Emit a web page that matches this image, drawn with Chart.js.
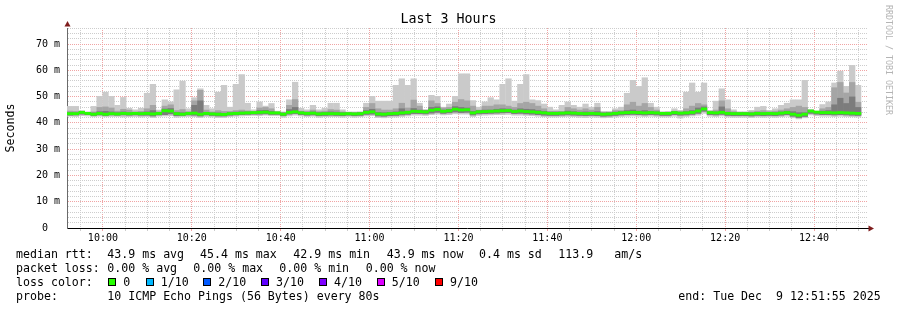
<!DOCTYPE html>
<html>
<head>
<meta charset="utf-8">
<title>Last 3 Hours</title>
<script src="https://cdn.jsdelivr.net/npm/chart.js@4.4.1/dist/chart.umd.min.js"></script>
<style>
  body { margin: 0; background: #fff; }
  .smoke-wrap { width: 897px; height: 310px; }
</style>
</head>
<body>
<div class="smoke-wrap"><canvas id="js-smoke-chart" width="897" height="310"></canvas></div>
<script>
// one slot = one 80s probe round, 9:51:55 -> 12:51:55
const startTime = '09:51:55';
const stepSeconds = 80;
const timeTicks = ['10:00', '10:20', '10:40', '11:00', '11:20', '11:40', '12:00', '12:20', '12:40'];

// values in ms
const maxRtt = [
  46.4, 46.4, 44.8, 44.3, 46.4, 50.2, 51.8, 50.2, 46.8, 49.8,
  45.7, 45.1, 45.7, 51.4, 54.8, 45.0, 48.9, 48.1, 52.7, 56.0,
  45.5, 49.7, 53.1, 46.8, 45.5, 51.8, 54.4, 46.1, 54.8, 58.5,
  47.6, 45.1, 48.1, 46.5, 47.5, 44.6, 44.3, 48.9, 55.6, 45.7,
  45.1, 46.8, 45.1, 45.7, 47.6, 47.6, 45.1, 44.3, 44.3, 44.3,
  47.6, 50.2, 48.4, 48.4, 48.4, 54.4, 56.9, 54.4, 56.9, 47.6,
  45.1, 50.6, 50.2, 46.1, 47.3, 50.2, 58.8, 58.8, 48.6, 46.1,
  48.1, 49.7, 48.9, 54.8, 56.9, 48.4, 54.8, 58.5, 48.9, 48.6,
  47.3, 46.1, 45.1, 46.8, 48.1, 46.8, 46.1, 47.3, 46.1, 47.6,
  44.3, 44.3, 45.5, 46.1, 51.4, 56.3, 54.0, 57.3, 47.6, 46.1,
  44.3, 44.3, 45.5, 44.9, 51.8, 55.3, 51.8, 55.3, 44.9, 48.4,
  53.1, 48.9, 45.1, 44.3, 44.3, 44.9, 46.1, 46.4, 44.9, 45.5,
  46.8, 47.6, 48.9, 48.9, 56.3, 44.9, 44.3, 47.1, 48.1, 55.3,
  59.8, 54.0, 62.0, 54.4, null
];

const upperRtt = [
  44.6, 44.5, 44.3, 44.0, 44.3, 46.0, 46.2, 45.8, 44.6, 45.3,
  45.0, 44.3, 44.5, 45.5, 46.8, 44.3, 46.5, 47.0, 44.8, 45.2,
  44.4, 48.5, 52.5, 45.0, 44.3, 44.8, 44.5, 44.5, 44.8, 45.0,
  44.7, 44.3, 45.8, 46.0, 45.5, 44.2, 44.0, 46.8, 49.0, 44.6,
  44.5, 45.0, 44.4, 44.6, 45.2, 45.0, 44.3, 44.0, 44.0, 44.2,
  46.0, 47.5, 45.5, 45.0, 45.0, 45.5, 47.6, 45.8, 48.8, 46.5,
  45.0, 48.5, 47.5, 45.8, 46.0, 48.0, 49.0, 48.5, 46.5, 45.0,
  46.5, 46.5, 47.0, 47.0, 46.5, 46.0, 47.5, 48.0, 47.5, 46.5,
  45.5, 44.5, 44.5, 44.5, 46.0, 45.5, 45.0, 45.5, 45.0, 46.0,
  44.3, 44.3, 44.8, 44.8, 47.0, 48.0, 46.5, 47.5, 46.0, 45.0,
  44.2, 44.3, 44.6, 44.4, 45.5, 46.5, 47.5, 47.0, 44.5, 45.0,
  48.5, 45.5, 44.4, 44.2, 44.2, 44.3, 44.6, 44.8, 44.4, 44.6,
  45.0, 45.5, 46.0, 46.5, 46.0, 45.0, 44.5, 45.5, 46.0, 53.5,
  55.5, 51.5, 55.5, 48.0, null
];

const innerRtt = [
  44.0, 43.9, 44.4, 44.0, 43.9, 44.4, 44.5, 44.3, 44.0, 44.3,
  44.0, 44.0, 44.0, 44.3, 44.8, 44.0, 45.4, 45.6, 44.1, 44.0,
  44.0, 46.8, 48.5, 44.1, 43.9, 43.9, 43.8, 44.0, 44.2, 44.3,
  44.3, 44.3, 44.8, 44.9, 44.5, 44.2, 43.9, 45.2, 46.0, 44.3,
  44.1, 44.3, 44.0, 44.1, 44.3, 44.2, 44.0, 44.0, 43.9, 44.0,
  44.8, 45.3, 44.1, 44.0, 44.1, 44.3, 45.5, 44.6, 45.6, 45.0,
  44.8, 46.0, 46.2, 45.0, 45.3, 46.3, 46.0, 45.8, 44.5, 44.8,
  45.0, 45.0, 45.3, 45.5, 45.4, 45.0, 45.5, 45.3, 45.2, 44.8,
  44.5, 44.2, 44.2, 44.2, 44.6, 44.4, 44.2, 44.3, 44.2, 44.4,
  43.9, 44.0, 44.2, 44.4, 44.8, 45.0, 44.6, 44.8, 44.5, 44.3,
  44.0, 44.0, 44.4, 44.2, 44.4, 44.8, 45.8, 46.2, 44.3, 44.3,
  46.2, 44.2, 44.0, 44.0, 44.0, 43.9, 44.1, 44.0, 44.1, 44.0,
  44.3, 44.6, 44.4, 44.0, 44.0, 45.0, 44.5, 44.6, 44.8, 47.0,
  49.5, 47.5, 50.0, 46.0, null
];

const medianRtt = [
  43.5, 43.5, 44.0, 43.6, 43.3, 43.6, 43.3, 43.5, 43.4, 43.6,
  43.5, 43.6, 43.5, 43.6, 43.4, 43.6, 44.6, 44.5, 43.5, 43.3,
  43.6, 43.7, 43.3, 43.6, 43.4, 43.3, 43.2, 43.5, 43.6, 43.7,
  43.8, 43.9, 44.0, 44.1, 43.8, 43.8, 43.3, 44.0, 44.2, 43.8,
  43.6, 43.7, 43.4, 43.5, 43.5, 43.5, 43.4, 43.5, 43.4, 43.5,
  44.0, 44.2, 43.4, 43.3, 43.5, 43.6, 43.8, 44.0, 44.4, 44.3,
  44.2, 44.8, 45.1, 44.4, 44.6, 45.2, 44.9, 45.0, 43.8, 44.2,
  44.3, 44.4, 44.5, 44.6, 44.7, 44.3, 44.5, 44.3, 44.2, 44.0,
  43.8, 43.6, 43.6, 43.7, 43.8, 43.7, 43.6, 43.5, 43.6, 43.5,
  43.3, 43.4, 43.6, 43.8, 43.9, 44.0, 43.9, 43.8, 43.9, 43.8,
  43.6, 43.6, 43.9, 43.7, 43.8, 44.0, 44.5, 45.3, 43.9, 43.8,
  44.0, 43.6, 43.5, 43.5, 43.5, 43.4, 43.6, 43.5, 43.6, 43.5,
  43.7, 43.9, 43.3, 42.9, 43.3, 44.5, 44.1, 43.9, 43.9, 43.8,
  43.9, 43.8, 43.7, 43.6, null
];

const lowRtt = [
  42.8, 42.9, 43.2, 43.0, 42.7, 42.9, 42.7, 42.9, 42.8, 42.9,
  42.8, 42.9, 42.8, 42.8, 42.5, 42.9, 43.0, 43.3, 42.6, 42.7,
  42.9, 42.8, 42.5, 42.9, 42.7, 42.5, 42.5, 42.8, 42.9, 43.0,
  43.1, 43.2, 43.2, 43.3, 43.1, 43.1, 42.6, 43.2, 43.4, 43.0,
  42.8, 42.9, 42.6, 42.7, 42.8, 42.7, 42.6, 42.8, 42.6, 42.7,
  43.1, 43.2, 42.5, 42.4, 42.6, 42.7, 42.9, 43.1, 43.4, 43.4,
  43.3, 43.6, 43.9, 43.5, 43.7, 44.0, 43.8, 43.9, 42.9, 43.3,
  43.4, 43.5, 43.6, 43.7, 43.8, 43.4, 43.5, 43.3, 43.2, 43.0,
  42.8, 42.7, 42.7, 42.8, 42.9, 42.8, 42.7, 42.6, 42.7, 42.6,
  42.4, 42.5, 42.7, 42.9, 43.0, 43.1, 43.0, 42.9, 43.0, 42.9,
  42.7, 42.7, 43.0, 42.8, 42.9, 43.1, 43.5, 44.3, 43.0, 42.9,
  43.1, 42.7, 42.6, 42.6, 42.6, 42.5, 42.7, 42.6, 42.7, 42.6,
  42.8, 43.0, 42.4, 41.9, 42.3, 43.5, 43.2, 43.0, 43.0, 42.9,
  43.0, 42.9, 42.8, 42.7, null
];

const minRtt = [
  42.4, 42.3, 42.6, 42.5, 42.2, 42.4, 42.2, 42.3, 42.3, 42.1,
  42.2, 42.3, 42.1, 42.3, 41.9, 42.4, 42.5, 42.6, 42.0, 42.2,
  42.3, 42.2, 41.9, 42.3, 42.1, 41.9, 41.9, 42.2, 42.4, 42.5,
  42.6, 42.7, 42.6, 42.8, 42.6, 42.6, 42.0, 42.5, 42.8, 42.5,
  42.3, 42.4, 42.0, 42.2, 42.2, 42.2, 42.0, 42.3, 42.0, 42.2,
  42.5, 42.6, 41.9, 41.8, 42.0, 42.1, 42.3, 42.5, 42.8, 42.8,
  42.7, 43.0, 43.2, 42.9, 43.0, 43.3, 43.2, 43.2, 42.3, 42.7,
  42.8, 42.9, 43.0, 43.0, 43.1, 42.8, 42.8, 42.7, 42.6, 42.4,
  42.2, 42.1, 42.1, 42.2, 42.3, 42.2, 42.0, 41.9, 42.1, 42.0,
  41.8, 41.9, 42.1, 42.3, 42.4, 42.5, 42.4, 42.3, 42.4, 42.3,
  42.1, 42.1, 42.4, 41.7, 42.3, 42.5, 42.8, 43.5, 42.4, 42.3,
  42.5, 42.1, 42.0, 42.0, 42.0, 41.9, 42.1, 42.0, 42.1, 42.0,
  42.2, 42.4, 41.8, 41.4, 41.8, 42.9, 42.6, 42.4, 42.4, 42.3,
  42.4, 42.3, 42.2, 42.1, null
];

const lossColors = ['#26ff00', '#00b8ff', '#0059ff', '#5e00ff', '#7e00ff', '#dd00ff', '#ff0000'];
const lossLabels = ['0', '1/10', '2/10', '3/10', '4/10', '5/10', '9/10'];

const mono = '"DejaVu Sans Mono", monospace';
const gridGray = '#cdcdcd';
const gridRed = '#f0a4a4';

const toSeconds = (hms) => {
  const [h, m, s] = hms.split(':').map(Number);
  return h * 3600 + m * 60 + s;
};
const clock = (secs, withSeconds) => {
  const h = String(Math.floor(secs / 3600)).padStart(2, '0');
  const m = String(Math.floor(secs / 60) % 60).padStart(2, '0');
  const s = String(secs % 60).padStart(2, '0');
  return withSeconds ? `${h}:${m}:${s}` : `${h}:${m}`;
};

const startSeconds = toSeconds(startTime);
const slotLabels = medianRtt.map((_, i) => clock(startSeconds + i * stepSeconds, true));
const spanMinutes = medianRtt.length * stepSeconds / 60;
const firstGridMinute = (Math.ceil(startSeconds / 300) * 300 - startSeconds) / 60;

const minuteToLabel = (minute) => clock(Math.round(startSeconds + minute * 60));
const isMajor = (minute) => timeTicks.includes(minuteToLabel(minute));

const band = (lows, highs) => lows.map((lo, i) => (lo === null ? null : [lo, highs[i]]));
const medianBand = medianRtt.map((v) => (v === null ? null : [v - 0.55, v + 0.55]));

const rrdExtras = {
  id: 'rrdExtras',
  afterDraw(chart) {
    const { ctx, chartArea: { left, right, top, bottom } } = chart;
    ctx.save();

    // title
    ctx.fillStyle = '#000';
    ctx.font = `13.3px ${mono}`;
    ctx.textAlign = 'center';
    ctx.textBaseline = 'middle';
    ctx.fillText('Last 3 Hours', 448.5, 20);
    ctx.textAlign = 'left';

    // axis arrows
    ctx.fillStyle = '#7f1d1d';
    ctx.beginPath();
    ctx.moveTo(left + 0.5, top - 7);
    ctx.lineTo(left + 3.5, top - 1.5);
    ctx.lineTo(left - 2.5, top - 1.5);
    ctx.closePath();
    ctx.fill();
    ctx.strokeStyle = '#000';
    ctx.lineWidth = 1;
    ctx.beginPath();
    ctx.moveTo(right, bottom + 0.5);
    ctx.lineTo(right + 2, bottom + 0.5);
    ctx.stroke();
    ctx.beginPath();
    ctx.moveTo(right + 7, bottom + 0.5);
    ctx.lineTo(right + 1.5, bottom - 2.5);
    ctx.lineTo(right + 1.5, bottom + 3.5);
    ctx.closePath();
    ctx.fill();

    // watermark
    ctx.save();
    ctx.translate(885, 5);
    ctx.rotate(Math.PI / 2);
    ctx.fillStyle = '#b4b4b4';
    ctx.font = `8.3px ${mono}`;
    ctx.textBaseline = 'middle';
    ctx.fillText('RRDTOOL / TOBI OETIKER', 0, -3.5);
    ctx.restore();

    // legend lines
    ctx.fillStyle = '#000';
    ctx.font = `11.6px ${mono}`;
    ctx.textBaseline = 'alphabetic';
    const put = (text, x, y) => ctx.fillText(text, x, y);

    put('median rtt:', 16, 258);
    put('43.9 ms avg', 107.3, 258);
    put('45.4 ms max', 200, 258);
    put('42.9 ms min', 293.3, 258);
    put('43.9 ms now', 386.7, 258);
    put('0.4 ms sd', 479, 258);
    put('113.9', 558.3, 258);
    put('am/s', 614.3, 258);

    put('packet loss:', 16, 272);
    put('0.00 % avg', 107.3, 272);
    put('0.00 % max', 193.3, 272);
    put('0.00 % min', 279.3, 272);
    put('0.00 % now', 365.7, 272);

    put('loss color:', 16, 286);
    const boxX = [108, 146, 203, 261, 319, 377, 435];
    const textX = [123.3, 160.7, 218.3, 276, 334, 391.7, 450];
    lossLabels.forEach((label, i) => {
      ctx.fillStyle = lossColors[i];
      ctx.fillRect(boxX[i], 278, 8, 8);
      ctx.strokeStyle = '#000';
      ctx.strokeRect(boxX[i] + 0.5, 278.5, 7, 7);
      ctx.fillStyle = '#000';
      put(label, textX[i], 286);
    });

    put('probe:', 16, 300);
    put('10 ICMP Echo Pings (56 Bytes) every 80s', 107.3, 300);
    put('end: Tue Dec  9 12:51:55 2025', 678.3, 300);

    ctx.restore();
  }
};

const smokeData = {
  labels: slotLabels,
  datasets: [
    { label: 'median', data: medianBand, backgroundColor: lossColors[0], order: 0 },
    { label: 'inner', data: band(lowRtt, innerRtt), backgroundColor: '#7c7c7c', order: 1 },
    { label: 'upper', data: band(lowRtt, upperRtt), backgroundColor: '#a5a5a5', order: 2 },
    { label: 'range', data: band(minRtt, maxRtt), backgroundColor: '#cacaca', order: 3 },
  ]
};

const smokeConfig = {
  type: 'bar',
  data: smokeData,
  options: {
    responsive: false,
    animation: false,
    layout: { padding: { left: 0, right: 30, top: 28, bottom: 0 } },
    datasets: {
      bar: { grouped: false, barPercentage: 1.06, categoryPercentage: 1, borderWidth: 0 }
    },
    plugins: {
      legend: { display: false },
      tooltip: { enabled: false },
      title: { display: false }
    },
    scales: {
      x: { type: 'category', display: false },
      xt: {
        type: 'linear',
        position: 'bottom',
        offset: false,
        min: 0,
        max: spanMinutes,
        afterBuildTicks: (scale) => {
          const ticks = [];
          for (let m = firstGridMinute; m <= spanMinutes; m += 5) ticks.push({ value: m });
          scale.ticks = ticks;
        },
        afterFit: (scale) => { scale.height = 82; },
        grid: {
          offset: false,
          color: (ctx) => (ctx.tick && isMajor(ctx.tick.value) ? gridRed : gridGray),
          drawTicks: true,
          tickLength: 3
        },
        border: { color: '#000', width: 1, dash: [1, 1] },
        ticks: {
          autoSkip: false,
          maxRotation: 0,
          padding: 1,
          color: '#000',
          font: { family: mono, size: 10 },
          callback: (value) => (isMajor(value) ? minuteToLabel(value) : '')
        }
      },
      y: {
        min: 0,
        max: 76.1,
        afterFit: (scale) => { scale.width = 67; },
        grid: {
          color: (ctx) => {
            if (!ctx.tick || ctx.tick.value === 0) return 'rgba(0,0,0,0)';
            return ctx.tick.value % 10 === 0 ? gridRed : gridGray;
          },
          drawTicks: false
        },
        border: { color: '#6a6a6a', width: 1, dash: [1, 1] },
        ticks: {
          stepSize: 2,
          includeBounds: false,
          autoSkip: false,
          padding: 7,
          color: '#000',
          font: { family: mono, size: 10 },
          callback: (value) => {
            if (value % 10 !== 0) return '';
            return value === 0 ? '0  ' : `${value} m`;
          }
        },
        title: {
          display: true,
          text: 'Seconds',
          color: '#000',
          font: { family: mono, size: 11.6 },
          padding: { top: 4, bottom: 0 }
        }
      }
    }
  },
  plugins: [rrdExtras]
};

new Chart(document.querySelector('#js-smoke-chart'), smokeConfig);
</script>
</body>
</html>
